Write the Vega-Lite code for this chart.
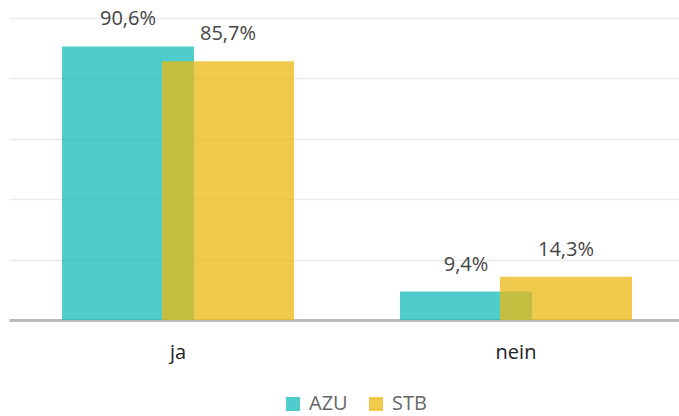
{
  "$schema": "https://vega.github.io/schema/vega-lite/v6.json",
  "width": 676,
  "height": 302,
  "autosize": "none",
  "padding": {"left": 9, "top": 18, "right": 0, "bottom": 96},
  "background": "white",
  "config": {
    "font": "Open Sans",
    "view": {"stroke": null}
  },
  "data": {
    "values": [
      {"antwort": "ja", "gruppe": "AZU", "wert": 90.6, "label": "90,6%"},
      {"antwort": "ja", "gruppe": "STB", "wert": 85.7, "label": "85,7%"},
      {"antwort": "nein", "gruppe": "AZU", "wert": 9.4, "label": "9,4%"},
      {"antwort": "nein", "gruppe": "STB", "wert": 14.3, "label": "14,3%"}
    ]
  },
  "encoding": {
    "x": {
      "field": "antwort",
      "type": "nominal",
      "sort": ["ja", "nein"],
      "scale": {"paddingInner": 0, "paddingOuter": 0},
      "axis": {
        "title": null,
        "labelAngle": 0,
        "labelFontSize": 20,
        "labelColor": "#222222",
        "labelPadding": 22,
        "ticks": false,
        "domainColor": "#bdbdbd",
        "domainWidth": 3
      }
    },
    "y": {
      "field": "wert",
      "type": "quantitative",
      "scale": {"domain": [0, 100]},
      "axis": {
        "title": null,
        "labels": false,
        "ticks": false,
        "domain": false,
        "values": [0, 20, 40, 60, 80, 100],
        "gridColor": "#ebebeb",
        "gridWidth": 1.5
      }
    },
    "color": {
      "field": "gruppe",
      "type": "nominal",
      "scale": {"domain": ["AZU", "STB"], "range": ["#13BCBB", "#EBB812"]},
      "legend": {
        "title": null,
        "orient": "none",
        "legendX": 274,
        "legendY": 376,
        "direction": "horizontal",
        "symbolType": "square",
        "symbolSize": 196,
        "symbolOpacity": 0.75,
        "symbolStrokeWidth": 0,
        "labelFontSize": 20,
        "labelColor": "#666666",
        "labelOffset": 6,
        "columnPadding": 18
      }
    }
  },
  "layer": [
    {
      "transform": [{"filter": "datum.gruppe === 'AZU'"}],
      "mark": {"type": "bar", "width": 132, "xOffset": -50, "opacity": 0.75}
    },
    {
      "transform": [{"filter": "datum.gruppe === 'STB'"}],
      "mark": {"type": "bar", "width": 132, "xOffset": 50, "opacity": 0.75}
    },
    {
      "transform": [{"filter": "datum.gruppe === 'AZU'"}],
      "mark": {"type": "text", "xOffset": -50, "dy": -17, "baseline": "bottom", "fontSize": 20, "color": "#444444"},
      "encoding": {"text": {"field": "label"}, "color": {"value": "#444444"}}
    },
    {
      "transform": [{"filter": "datum.gruppe === 'STB'"}],
      "mark": {"type": "text", "xOffset": 50, "dy": -17, "baseline": "bottom", "fontSize": 20, "color": "#444444"},
      "encoding": {"text": {"field": "label"}, "color": {"value": "#444444"}}
    }
  ]
}
